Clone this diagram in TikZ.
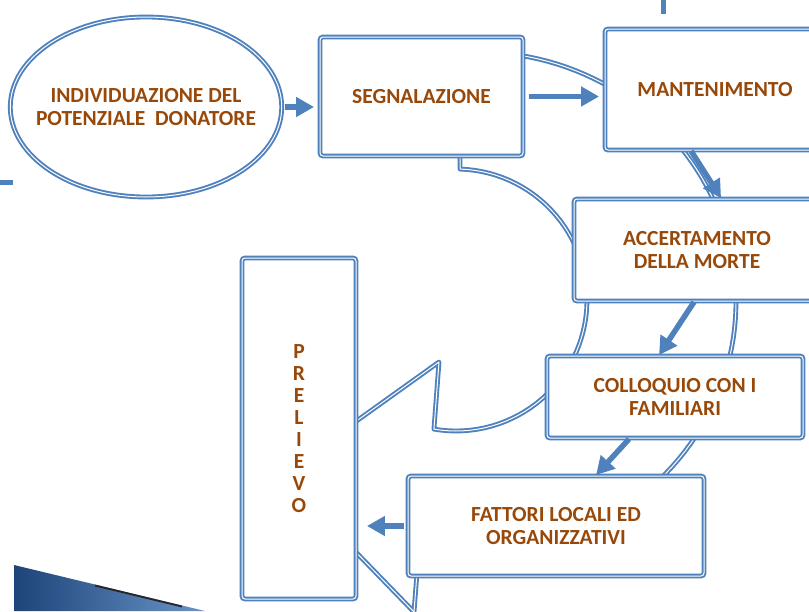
\documentclass[tikz,border=0pt]{standalone}
\usepackage{fontspec}
\setmainfont{Carlito}
\usetikzlibrary{shapes.geometric, arrows.meta, calc}
\definecolor{DonBlue}{RGB}{79,129,189}
\definecolor{DonBrown}{RGB}{152,72,8}
\definecolor{DonNavy}{RGB}{30,68,122}

\begin{document}
\begin{tikzpicture}[x=1pt, y=-1pt,
          stepbox/.style={rectangle, rounded corners=3pt, draw=DonBlue,
                          line width=1.9pt, double=white, double distance=1pt,
                          fill=white, text=DonBrown, align=center,
                          font=\fontsize{21.5}{23}\selectfont\bfseries},
          startbox/.style={stepbox, ellipse, inner xsep=-14pt},
          ring/.style={draw=DonBlue, line width=1.9pt, double=white,
                       double distance=1pt, line join=round},
          flow/.style={draw=DonBlue, line width=5.5pt,
                       -{Triangle[length=18pt, width=19pt]}}
        ]
        \useasboundingbox (0,0) rectangle (809,611);
        \fill[white] (0,0) rectangle (809,611);
        \clip (0,0) rectangle (809,611);

        % slide decorations
        \draw[DonBlue, line width=5pt] (663,0) -- (663,14);
        \draw[DonBlue, line width=5pt] (0,182) -- (13,182);
        \shade[left color=DonNavy, right color=DonBlue!85] (14,565) -- (205,611) -- (14,611) -- cycle;
        \draw[black!85, line width=1.8pt] (95,585.5) -- (182,606.5);

        % big circular arrow behind the steps
        \draw[ring] ({478+258*cos(-94.2)},{302+250*sin(-94.2)})
          -- plot[domain=-94.2:103.2, samples=90] ({478+258*cos(\x)},{302+250*sin(\x)})
          -- (414,612) -- (281,475) -- (439,362)
          -- plot[domain=99.7:-88.2, samples=60] ({456+131*cos(\x)},{300+131*sin(\x)})
          -- cycle;

        % steps
        \node[startbox, minimum width=262pt, minimum height=180pt] (ind) at (146,107)
             {INDIVIDUAZIONE DEL\\POTENZIALE \ DONATORE};
        \node[stepbox, minimum width=203pt, minimum height=119pt] (seg) at (421.5,96.5) {SEGNALAZIONE};
        \node[stepbox, minimum width=220pt, minimum height=121pt] (man) at (715,89.5) {MANTENIMENTO};
        \node[stepbox, minimum width=246pt, minimum height=102pt] (acc) at (697,250) {ACCERTAMENTO\\DELLA MORTE};
        \node[stepbox, minimum width=256pt, minimum height=82pt] (col) at (675,397) {COLLOQUIO CON I\\FAMILIARI};
        \node[stepbox, minimum width=296pt, minimum height=100pt] (fat) at (556,526) {FATTORI LOCALI ED\\ORGANIZZATIVI};
        \node[stepbox, minimum width=114pt, minimum height=341pt,
              font=\fontsize{21.5}{22}\selectfont\bfseries] (pre) at (299,428.5) {P\\R\\E\\L\\I\\E\\V\\O};

        % flow between steps
        \draw[flow, shorten <=2pt, shorten >=5pt] (ind.east) -- (ind.east -| seg.west);
        \draw[flow, shorten <=5pt, shorten >=5pt] (seg.east) -- (seg.east -| man.west);
        \foreach \a/\da/\b/\db in {man/87/acc/148, acc/121/col/113, col/83/fat/189} {
          \draw[flow] ([shift={(\da,0)}]\a.south west) -- ([shift={(\db,0)}]\b.north west);
        }
        \draw[flow, shorten <=3pt, shorten >=10pt] (fat.west) -- (fat.west -| pre.east);
      \end{tikzpicture}
\end{document}
